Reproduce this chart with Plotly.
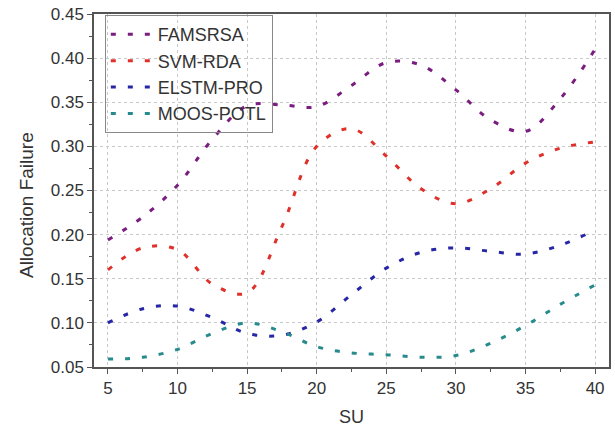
import plotly.graph_objects as go

su = [5, 7.5, 10, 12.5, 15, 17.5, 20, 22.5, 25, 27.5, 30, 32.5, 35, 37.5, 40]
famsrsa = [0.194, 0.220, 0.256, 0.308, 0.346, 0.347, 0.345, 0.369, 0.395, 0.392, 0.364, 0.330, 0.317, 0.354, 0.410]
svm_rda = [0.160, 0.185, 0.183, 0.144, 0.134, 0.209, 0.300, 0.320, 0.289, 0.252, 0.235, 0.252, 0.281, 0.298, 0.305]
elstm_pro = [0.100, 0.116, 0.119, 0.106, 0.088, 0.086, 0.101, 0.132, 0.162, 0.180, 0.185, 0.181, 0.178, 0.188, 0.205]
moos_potl = [0.059, 0.061, 0.070, 0.088, 0.100, 0.090, 0.073, 0.066, 0.064, 0.061, 0.063, 0.077, 0.097, 0.121, 0.143]

series = [
    ("FAMSRSA", famsrsa, "#7a1c80"),
    ("SVM-RDA", svm_rda, "#e0302a"),
    ("ELSTM-PRO", elstm_pro, "#2626a6"),
    ("MOOS-POTL", moos_potl, "#278a8c"),
]

x_ticks = [5, 10, 15, 20, 25, 30, 35, 40]
y_ticks = [0.05, 0.10, 0.15, 0.20, 0.25, 0.30, 0.35, 0.40, 0.45]

fig = go.Figure()
for name, vals, color in series:
    fig.add_trace(go.Scatter(
        x=su, y=vals, name=name, mode="lines",
        line=dict(color=color, width=3, dash="5px,12px", shape="spline", smoothing=1.0),
    ))

font = "Liberation Sans, Arial, sans-serif"
fig.update_layout(
    width=615, height=427,
    margin=dict(l=94, r=6, t=14, b=60, autoexpand=False),
    paper_bgcolor="white", plot_bgcolor="white",
    font=dict(family=font, size=17, color="#333333"),
    showlegend=True,
    legend=dict(
        x=0.021, y=0.997, xanchor="left", yanchor="top",
        bordercolor="#888888", borderwidth=1, bgcolor="rgba(255,255,255,0)",
        font=dict(size=18, color="#333333"),
        itemwidth=42,
        tracegroupgap=0,
    ),
    annotations=[
        dict(
            text="Allocation Failure", textangle=-90,
            xref="paper", yref="paper", x=-0.130, y=0.459,
            xanchor="center", yanchor="middle", showarrow=False,
            font=dict(size=19, color="#333333"),
        ),
        dict(
            text="SU",
            xref="paper", yref="paper", x=0.5, y=-0.1416,
            xanchor="center", yanchor="middle", showarrow=False,
            font=dict(size=18, color="#333333"),
        ),
    ],
)
fig.update_xaxes(
    range=[4, 41], tickvals=x_ticks, ticktext=[str(v) for v in x_ticks],
    showline=True, linecolor="#555555", linewidth=1.5, mirror=True,
    ticks="outside", ticklen=5, tickcolor="#555555",
    minor=dict(tickvals=[v + 2.5 for v in x_ticks[:-1]], ticks="outside", ticklen=3, tickcolor="#555555", showgrid=False),
    showgrid=True, gridcolor="#c8c8c8", griddash="dot", gridwidth=1,
    zeroline=False, automargin=False,
)
fig.update_yaxes(
    range=[0.05, 0.45], tickvals=y_ticks, ticktext=["%.2f" % v for v in y_ticks],
    showline=True, linecolor="#555555", linewidth=1.5, mirror=True,
    ticks="outside", ticklen=5, tickcolor="#555555",
    minor=dict(tickvals=[round(v + 0.025, 3) for v in y_ticks[:-1]], ticks="outside", ticklen=3, tickcolor="#555555", showgrid=False),
    showgrid=True, gridcolor="#c8c8c8", griddash="dot", gridwidth=1,
    zeroline=False, automargin=False,
)

fig.write_html("out.html")
